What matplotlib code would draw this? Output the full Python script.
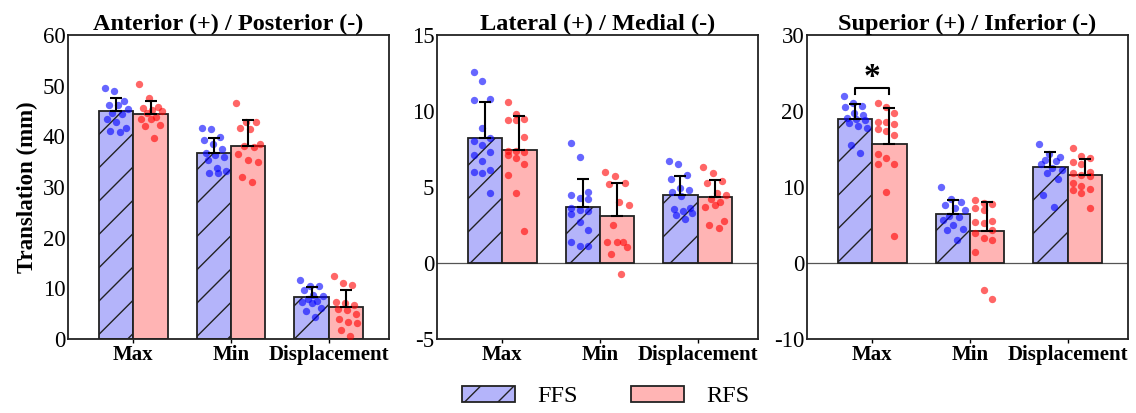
import numpy as np
import matplotlib
matplotlib.use("Agg")
import matplotlib.pyplot as plt
from matplotlib.patches import Patch

plt.rcParams['font.family'] = ['Liberation Serif', 'DejaVu Serif']
plt.rcParams['axes.unicode_minus'] = False

categories = ['Max', 'Min', 'Displacement']
titles = ['Anterior (+) / Posterior (-)', 'Lateral (+) / Medial (-)', 'Superior (+) / Inferior (-)']
ylims = [(0, 60), (-5, 15), (-10, 30)]
yticks = [[0, 10, 20, 30, 40, 50, 60], [-5, 0, 5, 10, 15], [-10, 0, 10, 20, 30]]

# bar means and upper error (sd)
ffs_mean = [[45.0, 36.7, 8.3], [8.2, 3.66, 4.5], [19.0, 6.4, 12.6]]
ffs_sd = [[2.5, 2.9, 1.9], [2.4, 1.9, 1.26], [1.9, 1.9, 2.0]]
rfs_mean = [[44.5, 38.2, 6.4], [7.45, 3.1, 4.34], [15.7, 4.2, 11.6]]
rfs_sd = [[2.5, 5.0, 3.2], [2.25, 2.16, 1.14], [4.7, 3.9, 2.15]]

# individual subjects
ffs_pts = [
    [[49.6, 49.0, 47.0, 46.3, 46.3, 45.5, 44.7, 44.5, 43.4, 42.9, 41.7, 41.1, 40.8],
     [41.7, 41.4, 39.8, 39.3, 38.5, 37.6, 36.8, 36.3, 36.0, 35.3, 33.7, 33.2, 32.7, 32.7],
     [11.7, 10.4, 10.4, 9.7, 8.7, 8.5, 7.9, 7.6, 7.4, 7.1, 6.1, 5.5, 4.3]],
    [[12.6, 12.0, 10.8, 10.7, 8.9, 8.2, 8.0, 7.8, 7.3, 7.1, 6.7, 6.1, 6.0, 5.9, 4.6],
     [7.9, 7.0, 4.7, 4.5, 4.25, 4.2, 3.6, 3.5, 3.4, 3.2, 2.7, 2.2, 1.4, 1.1, 1.1],
     [6.7, 6.5, 5.8, 5.5, 4.95, 4.8, 4.7, 4.4, 3.6, 3.55, 3.4, 3.3, 3.15, 2.9]],
    [[22.0, 21.0, 20.7, 20.6, 19.8, 19.5, 19.1, 18.9, 18.8, 18.4, 18.1, 17.8, 15.5, 14.5],
     [10.0, 8.45, 8.0, 7.7, 7.3, 7.0, 6.2, 6.05, 5.7, 5.0, 4.5, 4.4, 3.0],
     [15.7, 14.4, 13.9, 13.6, 13.4, 13.0, 12.5, 12.2, 11.8, 11.0, 9.0, 7.4]],
]
rfs_pts = [
    [[50.3, 47.6, 45.9, 45.7, 45.2, 45.0, 44.7, 43.8, 43.4, 43.4, 42.2, 42.1, 39.6],
     [46.5, 42.9, 42.8, 41.7, 41.5, 38.5, 38.2, 38.0, 36.5, 35.3, 35.0, 31.9, 31.1],
     [12.5, 11.0, 10.6, 7.4, 7.2, 6.8, 5.9, 5.8, 5.0, 3.9, 3.4, 3.2, 1.7, 0.7]],
    [[10.6, 9.8, 9.5, 9.4, 9.4, 8.3, 7.4, 7.4, 7.3, 7.1, 6.9, 6.5, 5.8, 4.6, 2.1],
     [6.0, 5.7, 5.3, 5.2, 4.0, 3.8, 2.5, 1.4, 1.4, 1.4, 1.05, 0.6, -0.7],
     [6.35, 5.9, 5.4, 5.3, 4.6, 4.5, 4.2, 4.05, 3.7, 3.8, 2.8, 2.5, 2.3]],
    [[21.1, 20.6, 19.8, 18.6, 18.5, 18.3, 17.7, 17.4, 16.9, 14.4, 13.8, 13.1, 13.0, 9.4, 3.6],
     [8.3, 7.9, 7.8, 7.2, 7.0, 5.6, 5.4, 5.3, 4.4, 3.9, 3.3, 3.0, 1.5, -3.6, -4.7],
     [15.1, 14.1, 13.8, 13.3, 13.1, 12.0, 11.8, 11.6, 11.4, 10.6, 10.2, 9.8, 9.6, 9.2, 7.2]],
]

ffs_face = '#b4b4fa'
rfs_face = '#ffb4b4'
edge = '#222222'
w = 0.35


def spread(n, half=0.12):
    # fixed, evenly spread horizontal offsets, shuffled by index
    base = np.linspace(-half, half, n)
    order = [(i * 5) % n for i in range(n)]
    return base[order]


fig = plt.figure(figsize=(11.36, 4.13), dpi=100)
lefts = [0.0599, 0.3847, 0.7104]
axes = [fig.add_axes([l, 0.179, 0.2826, 0.736]) for l in lefts]

x = np.arange(len(categories))
for p, ax in enumerate(axes):
    ax.bar(x - w / 2, ffs_mean[p], w, color=ffs_face, edgecolor=edge,
           linewidth=1.3, hatch='/', zorder=2)
    ax.bar(x + w / 2, rfs_mean[p], w, color=rfs_face, edgecolor=edge,
           linewidth=1.3, zorder=2)
    for i in range(len(categories)):
        f = np.array(ffs_pts[p][i])
        r = np.array(rfs_pts[p][i])
        ax.scatter(x[i] - w / 2 + spread(len(f)), f, s=28, color='#0000ff',
                   alpha=0.6, linewidths=0, zorder=3)
        ax.scatter(x[i] + w / 2 + spread(len(r)), r, s=28, color='#ff0000',
                   alpha=0.6, linewidths=0, zorder=3)
    ax.errorbar(x - w / 2, ffs_mean[p], yerr=[np.zeros(3), ffs_sd[p]], fmt='none',
                ecolor='black', elinewidth=1.5, capsize=4, capthick=1.5, zorder=4)
    ax.errorbar(x + w / 2, rfs_mean[p], yerr=[np.zeros(3), rfs_sd[p]], fmt='none',
                ecolor='black', elinewidth=1.5, capsize=4, capthick=1.5, zorder=4)

    if ylims[p][0] < 0:
        ax.axhline(0, color='#555555', lw=0.9, zorder=1)

    ax.set_xlim(-0.67, 2.62)
    ax.set_ylim(*ylims[p])
    ax.set_yticks(yticks[p])
    ax.set_xticks(x)
    ax.set_xticklabels(categories, fontweight='bold', fontsize=15)
    ax.tick_params(axis='y', length=0, labelsize=16.5, pad=2)
    ax.tick_params(axis='x', length=3, width=1, pad=1)
    for s in ax.spines.values():
        s.set_linewidth(1.3)
        s.set_color(edge)
    ax.set_title(titles[p], fontweight='bold', fontsize=17.5, pad=1)

axes[0].set_ylabel('Translation (mm)', fontweight='bold', fontsize=16.5, labelpad=3)

# significance bracket on superior/inferior Max
ax = axes[2]
bx1, bx2, by = -w / 2, w / 2, 23.0
ax.plot([bx1, bx1, bx2, bx2], [by - 0.8, by, by, by - 0.8], color='black', lw=1.5, zorder=5)
ax.text(0, 22.4, '*', ha='center', va='bottom', fontsize=24, fontweight='bold')

handles = [Patch(facecolor=ffs_face, edgecolor=edge, hatch='/', linewidth=1.3, label='FFS'),
           Patch(facecolor=rfs_face, edgecolor=edge, linewidth=1.3, label='RFS')]
fig.legend(handles=handles, loc='center', bbox_to_anchor=(0.533, 0.04), ncol=2,
           frameon=False, fontsize=17.5, handlelength=2.2, handleheight=0.65,
           columnspacing=2.2, handletextpad=0.9)

fig.savefig('out.png', dpi=100)
